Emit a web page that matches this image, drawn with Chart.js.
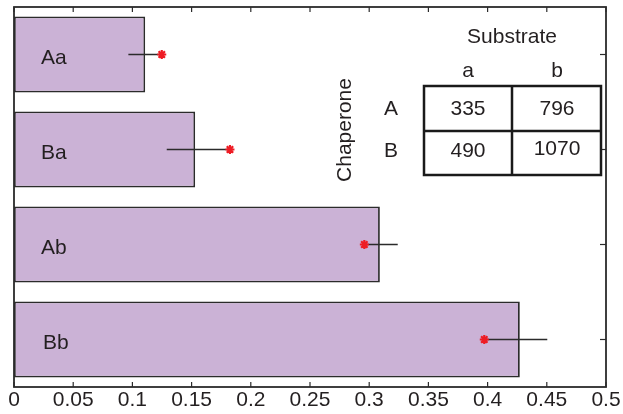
<!DOCTYPE html>
<html>
<head>
<meta charset="utf-8">
<script src="https://cdn.jsdelivr.net/npm/chart.js@4.4.1/dist/chart.umd.min.js"></script>
<style>
  html, body { margin: 0; padding: 0; background: #ffffff; }
  #wrap { width: 623px; height: 414px; position: relative; }
</style>
</head>
<body>
<div id="wrap"><canvas id="c"></canvas></div>
<script>
// ---- data ----
const categories = ['Aa', 'Ba', 'Ab', 'Bb'];
const barValues = [0.1108, 0.1530, 0.3090, 0.4272];
const pointValues = [0.1248, 0.1824, 0.2959, 0.3972];
const errorEnds = [0.0966, 0.1290, 0.3241, 0.4504];
const tickValues = [0, 0.05, 0.1, 0.15, 0.2, 0.25, 0.3, 0.35, 0.4, 0.45, 0.5];
const tickLabels = ['0', '0.05', '0.1', '0.15', '0.2', '0.25', '0.3', '0.35', '0.4', '0.45', '0.5'];
const substrateTitle = 'Substrate';
const chaperoneTitle = 'Chaperone';
const substrateLabels = ['a', 'b'];
const chaperoneLabels = ['A', 'B'];
const tableRowA = [335, 796];
const tableRowB = [490, 1070];

const FONT = '"Liberation Sans", Arial, Helvetica, sans-serif';
const INK = '#231f20';
const FRAME = '#2b2b2b';

const decorPlugin = {
  id: 'decor',
  beforeDatasetDraw(chart, args) {
    if (args.index !== 1) return;
    const ctx = chart.ctx, x = chart.scales.x, y = chart.scales.y;
    ctx.save();
    ctx.strokeStyle = '#2b2b2b';
    ctx.lineWidth = 1.5;
    pointValues.forEach((v, i) => {
      const py = y.getPixelForValue(i);
      ctx.beginPath();
      ctx.moveTo(x.getPixelForValue(v), py);
      ctx.lineTo(x.getPixelForValue(errorEnds[i]), py);
      ctx.stroke();
    });
    ctx.restore();
  },
  afterDraw(chart) {
    const ctx = chart.ctx, a = chart.chartArea, x = chart.scales.x, y = chart.scales.y;
    ctx.save();
    // category labels inside bars
    ctx.fillStyle = INK;
    ctx.font = '21px ' + FONT;
    ctx.textAlign = 'left';
    ctx.textBaseline = 'middle';
    categories.forEach((c, i) => {
      ctx.fillText(c, a.left + 27 + (i === 3 ? 2 : 0), y.getPixelForValue(i) + 4);
    });
    // frame
    ctx.strokeStyle = FRAME;
    ctx.lineWidth = 1.8;
    ctx.strokeRect(a.left, a.top, a.right - a.left, a.bottom - a.top);
    // inward ticks
    ctx.lineWidth = 1.2;
    tickValues.forEach(v => {
      const px = x.getPixelForValue(v);
      ctx.beginPath();
      ctx.moveTo(px, a.top); ctx.lineTo(px, a.top + 5);
      ctx.moveTo(px, a.bottom); ctx.lineTo(px, a.bottom - 5);
      ctx.stroke();
    });
    categories.forEach((c, i) => {
      const py = y.getPixelForValue(i);
      ctx.beginPath();
      ctx.moveTo(a.right, py); ctx.lineTo(a.right - 6, py);
      ctx.stroke();
    });
    // inset table
    const L = 424, R = 601, T = 86, B = 175, MX = 512, MY = 131;
    const colX = [468, 557];
    const rowBase = [115, 157];
    ctx.lineWidth = 2.5;
    ctx.strokeStyle = '#1a1a1a';
    ctx.strokeRect(L, T, R - L, B - T);
    ctx.beginPath();
    ctx.moveTo(MX, T); ctx.lineTo(MX, B);
    ctx.moveTo(L, MY); ctx.lineTo(R, MY);
    ctx.stroke();
    ctx.fillStyle = INK;
    ctx.font = '21px ' + FONT;
    ctx.textAlign = 'center';
    ctx.textBaseline = 'alphabetic';
    ctx.fillText(substrateTitle, 512, 43);
    substrateLabels.forEach((s, j) => ctx.fillText(s, colX[j], 77));
    chaperoneLabels.forEach((s, i) => ctx.fillText(s, 391, rowBase[i]));
    [tableRowA, tableRowB].forEach((row, i) => {
      row.forEach((v, j) => ctx.fillText(String(v), colX[j], rowBase[i] - (i === 1 && j === 1 ? 2 : 0)));
    });
    ctx.translate(351, 130);
    ctx.rotate(-Math.PI / 2);
    ctx.fillText(chaperoneTitle, 0, 0);
    ctx.restore();
  }
};

new Chart(document.getElementById('c'), {
  type: 'bar',
  data: {
    labels: categories,
    datasets: [
      {
        type: 'bar',
        data: barValues,
        backgroundColor: '#cbb2d6',
        borderColor: '#2b2b2b',
        borderWidth: 1.8,
        borderSkipped: false,
        categoryPercentage: 0.8,
        barPercentage: 1.0,
        order: 1
      },
      {
        type: 'line',
        data: pointValues,
        showLine: false,
        pointStyle: 'star',
        pointRadius: 4.5,
        pointBorderWidth: 2.2,
        pointBorderColor: '#ee1c24',
        pointBackgroundColor: '#ee1c24',
        order: 0
      }
    ]
  },
  options: {
    indexAxis: 'y',
    responsive: true,
    maintainAspectRatio: false,
    animation: false,
    layout: { padding: { left: 14, right: 17, top: 7, bottom: 0 } },
    plugins: { legend: { display: false }, tooltip: { enabled: false } },
    scales: {
      x: {
        type: 'linear',
        min: 0, max: 0.5,
        grid: { display: false, drawTicks: false },
        border: { display: false },
        afterBuildTicks: s => { s.ticks = tickValues.map(v => ({ value: v })); },
        afterFit: s => { s.height = 27; s.paddingLeft = 0; s.paddingRight = 0; },
        ticks: {
          autoSkip: false,
          maxRotation: 0,
          padding: 1,
          color: INK,
          font: { family: FONT, size: 21 },
          callback: (v, i) => tickLabels[i]
        }
      },
      y: {
        type: 'category',
        grid: { display: false, drawTicks: false },
        border: { display: false },
        afterFit: s => { s.width = 0; s.paddingTop = 0; s.paddingBottom = 0; },
        ticks: { display: false }
      }
    }
  },
  plugins: [decorPlugin]
});
</script>
</body>
</html>
